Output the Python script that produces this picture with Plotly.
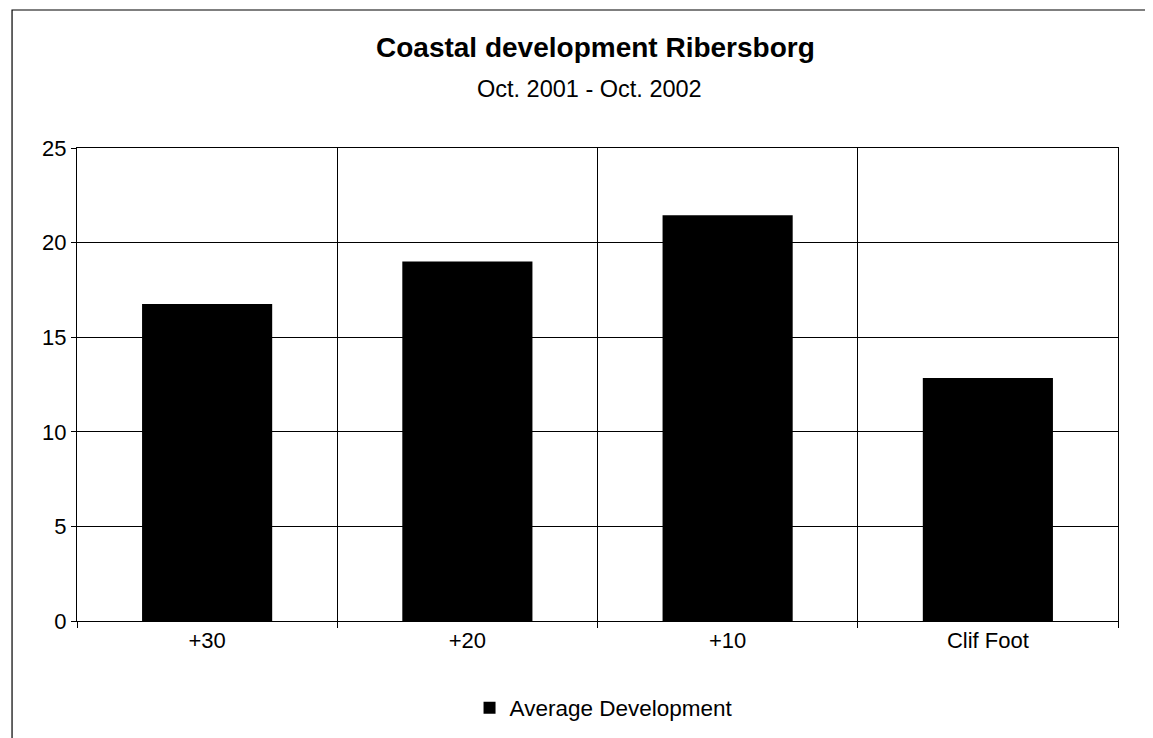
import plotly.graph_objects as go

categories = ["+30", "+20", "+10", "Clif Foot"]
avg_development = [16.75, 19.0, 21.45, 12.85]
series_name = "Average Development"
title_text = "Coastal development Ribersborg"
subtitle_text = "Oct. 2001 - Oct. 2002"

FONT = "Liberation Sans, Arial, sans-serif"

fig = go.Figure()
fig.add_trace(go.Bar(
    x=categories,
    y=avg_development,
    name=series_name,
    marker=dict(color="#000000", line=dict(width=0)),
    width=0.5,
    showlegend=True,
))

fig.update_layout(
    width=1153,
    height=738,
    paper_bgcolor="white",
    plot_bgcolor="white",
    margin=dict(l=69, r=43, t=140, b=125, autoexpand=False),
    font=dict(family=FONT, size=22, color="black"),
    showlegend=True,
    legend=dict(
        orientation="h",
        x=0.5058, xanchor="center",
        y=-0.184, yanchor="middle",
        font=dict(size=22.5, family=FONT),
        bgcolor="rgba(0,0,0,0)",
    ),
    annotations=[
        dict(text="<b>" + title_text + "</b>", xref="paper", yref="paper",
             x=0.4985, y=1.2135, xanchor="center", yanchor="middle",
             showarrow=False, font=dict(size=28, family=FONT)),
        dict(text=subtitle_text, xref="paper", yref="paper",
             x=0.4923, y=1.1247, xanchor="center", yanchor="middle",
             showarrow=False, font=dict(size=23.5, family=FONT)),
    ],
    shapes=[
        dict(type="rect", xref="paper", yref="paper",
             x0=-0.0624, x1=1.06, y0=-0.29, y1=1.2918,
             line=dict(color="black", width=1.2), layer="below"),
    ],
)

fig.update_xaxes(
    type="category",
    tickson="boundaries",
    showgrid=True, gridcolor="black", gridwidth=1,
    showline=True, linecolor="black", linewidth=1, mirror=True,
    ticks="outside", ticklen=6, tickcolor="black",
    tickfont=dict(size=22, family=FONT),
)
fig.update_yaxes(
    range=[0, 25], dtick=5,
    showgrid=True, gridcolor="black", gridwidth=1,
    showline=True, linecolor="black", linewidth=1, mirror=True,
    ticks="outside", ticklen=5, tickcolor="black",
    tickfont=dict(size=22, family=FONT),
    zeroline=False,
)

fig.write_html("out.html")
